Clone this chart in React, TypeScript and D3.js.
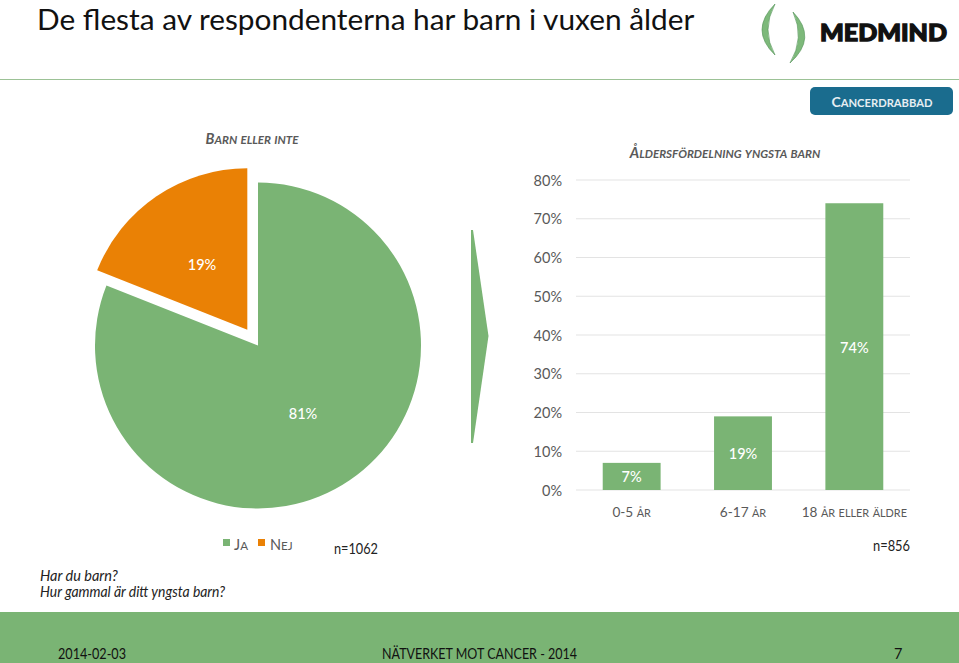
import { useEffect } from 'react'
import * as d3 from 'd3'

const W = 959
const H = 663

const PIE_LABELS = ['Ja', 'Nej']
const PIE_VALUES = [81, 19]
const PIE_TEXT = ['81%', '19%']

const AGE_LABELS = ['0-5 år', '6-17 år', '18 år eller äldre']
const AGE_VALUES = [7, 19, 74]
const Y_TICKS = [0, 10, 20, 30, 40, 50, 60, 70, 80]

const GREEN = '#7AB474'
const ORANGE = '#EA8105'
const AXIS_TEXT = '#595959'
const GRID_LINE = '#E3E3E3'
const FONT = "Lato, 'Open Sans', sans-serif"

const PIE_CENTER = { x: 258, y: 345.5 }
const PIE_R = [163, 161.5]
const EXPLODE = 19

const PLOT = { left: 576, right: 910, top: 180, bottom: 490 }

// lower case letters become smaller capitals, like the slide font does
function smallCaps(text: string, size: number) {
  const runs = text.match(/[a-zåäö]+|[^a-zåäö]+/g) ?? []
  return runs.map((r, i) =>
    /[a-zåäö]/.test(r[0])
      ? <tspan key={i} fontSize={size * 0.8}>{r.toUpperCase()}</tspan>
      : <tspan key={i} fontSize={size}>{r}</tspan>
  )
}

export default function App() {
  useEffect(() => {
    document.body.style.margin = '0'
  }, [])

  const slices = d3.pie<number>().sort(null).startAngle(0).endAngle(2 * Math.PI)(PIE_VALUES)
  const arc = d3.arc<d3.PieArcDatum<number>>().innerRadius(0)

  const x = d3.scaleBand<string>().domain(AGE_LABELS).range([PLOT.left, PLOT.right]).paddingInner(0.48).paddingOuter(0.24)
  const y = d3.scaleLinear().domain([0, 80]).range([PLOT.bottom, PLOT.top])

  return (
    <svg width={W} height={H} viewBox={`0 0 ${W} ${H}`} style={{ display: 'block', background: '#fff', fontFamily: FONT }}>
      <text x={37} y={30} fontSize={29.8} fill="#111">De flesta av respondenterna har barn i vuxen ålder</text>

      {/* logo */}
      <path d="M775 4 Q749 30 775 55 Q761 30 775 4 Z" fill="#7DB97A" stroke="#4E8F52" strokeWidth={0.6} />
      <path d="M793 12 Q818 38 790 63 Q805 38 793 12 Z" fill="#7DB97A" stroke="#4E8F52" strokeWidth={0.6} />
      <text x={820} y={41} fontSize={23.5} fontWeight={900} fill="#111" textLength={127} lengthAdjust="spacingAndGlyphs" stroke="#111" strokeWidth={1.3}>MEDMIND</text>

      <line x1={0} x2={W} y1={79.5} y2={79.5} stroke="#9CC296" strokeWidth={1} />

      <rect x={810} y={87} width={143} height={28} rx={5} fill="#1A6C8E" />
      <text x={882} y={107} textAnchor="middle" fontWeight={700} fill="#E6EEF2">{smallCaps('Cancerdrabbad', 14)}</text>

      {/* pie */}
      <text x={252} y={144} textAnchor="middle" fontWeight={700} fontStyle="italic" fill={AXIS_TEXT}>{smallCaps('Barn eller inte', 14.5)}</text>
      {slices.map((s, i) => {
        const mid = (s.startAngle + s.endAngle) / 2
        const off = i === 1 ? EXPLODE : 0
        const cx = PIE_CENTER.x + Math.sin(mid) * off
        const cy = PIE_CENTER.y - Math.cos(mid) * off
        const lx = i === 0 ? 303 : 202
        const ly = i === 0 ? 419 : 270
        return (
          <g key={PIE_LABELS[i]}>
            <path d={arc.outerRadius(PIE_R[i])(s) ?? ''} transform={`translate(${cx},${cy})`} fill={i === 0 ? GREEN : ORANGE} />
            <text x={lx} y={ly} textAnchor="middle" fontSize={14.5} fontWeight={500} fill="#fff">{PIE_TEXT[i]}</text>
          </g>
        )
      })}

      {/* legend */}
      <rect x={223} y={539} width={7} height={7} fill={GREEN} />
      <text x={234} y={550} fill={AXIS_TEXT}>{smallCaps(PIE_LABELS[0], 14.5)}</text>
      <rect x={258} y={539} width={7} height={7} fill={ORANGE} />
      <text x={270} y={550} fill={AXIS_TEXT}>{smallCaps(PIE_LABELS[1], 14.5)}</text>
      <text x={334} y={554} fontSize={14.5} textLength={44} lengthAdjust="spacingAndGlyphs" fill="#222">n=1062</text>

      <text x={40} y={581} fontSize={14.5} fontStyle="italic" fill="#222">Har du barn?</text>
      <text x={40} y={597} fontSize={14.5} fontStyle="italic" textLength={185} lengthAdjust="spacingAndGlyphs" fill="#222">Hur gammal är ditt yngsta barn?</text>

      {/* arrow */}
      <path d="M471 230 L473 230 L488.5 336 L473 443 L471 443 Z" fill={GREEN} />

      {/* bars */}
      <text x={725} y={158} textAnchor="middle" fontWeight={700} fontStyle="italic" fill={AXIS_TEXT}>{smallCaps('Åldersfördelning yngsta barn', 14.5)}</text>
      {Y_TICKS.map((t) => (
        <g key={t}>
          <line x1={PLOT.left} x2={PLOT.right} y1={y(t)} y2={y(t)} stroke={GRID_LINE} strokeWidth={1.2} />
          <text x={562} y={y(t) + 5.5} textAnchor="end" fontSize={14.5} fill={AXIS_TEXT}>{t}%</text>
        </g>
      ))}
      {AGE_LABELS.map((label, i) => {
        const bx = x(label) ?? 0
        const cx = bx + x.bandwidth() / 2
        const top = y(AGE_VALUES[i])
        return (
          <g key={label}>
            <rect x={bx} y={top} width={x.bandwidth()} height={PLOT.bottom - top} fill={GREEN} />
            <text x={cx} y={(top + PLOT.bottom) / 2 + 6} textAnchor="middle" fontSize={14.5} fontWeight={500} fill="#fff">{AGE_VALUES[i]}%</text>
            <text x={cx} y={517} textAnchor="middle" fill={AXIS_TEXT}>{smallCaps(label, 13.6)}</text>
          </g>
        )
      })}
      <text x={910} y={551} textAnchor="end" fontSize={14.5} textLength={37} lengthAdjust="spacingAndGlyphs" fill="#222">n=856</text>

      {/* footer */}
      <rect x={0} y={612} width={W} height={H - 612} fill={GREEN} />
      <text x={58} y={659} fontSize={14.5} textLength={68} lengthAdjust="spacingAndGlyphs" fill="#111">2014-02-03</text>
      <text x={382} y={659} fontSize={14.5} textLength={195} lengthAdjust="spacingAndGlyphs" fill="#111">NÄTVERKET MOT CANCER - 2014</text>
      <text x={894} y={659} fontSize={14.5} fill="#111">7</text>
    </svg>
  )
}
